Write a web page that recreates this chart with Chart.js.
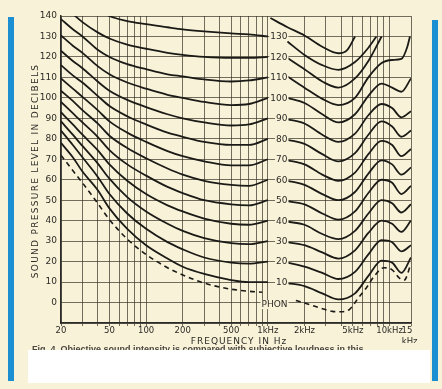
<!DOCTYPE html>
<html>
<head>
<meta charset="utf-8">
<script src="https://cdn.jsdelivr.net/npm/chart.js@4.4.1/dist/chart.umd.min.js"></script>
<style>
  body { margin: 0; background: #f8f3d8; }
  #wrap { position: relative; width: 442px; height: 389px; overflow: hidden; font-family: "DejaVu Sans", sans-serif; color: #2b2a26; }
  #chart { position: absolute; left: 0; top: 0; }
  .bar { position: absolute; width: 6px; background: #1c8fd3; }
  #ytitle { position: absolute; left: 35px; top: 171px; transform: translate(-50%, -50%) rotate(-90deg); font-size: 9px; letter-spacing: 1.3px; white-space: nowrap; }
  #xtitle { position: absolute; left: 239px; top: 341px; transform: translate(-50%, -50%); font-size: 9px; letter-spacing: 1px; white-space: nowrap; }
  #caption { position: absolute; left: 32px; top: 344px; font-family: "Liberation Sans", sans-serif; font-weight: bold; font-size: 9px; color: #4a4740; white-space: nowrap; }
  #blank { position: absolute; left: 28px; top: 350px; width: 402px; height: 33px; background: #fff; }
</style>
</head>
<body>
<div id="wrap">
  <canvas id="chart" width="442" height="389"></canvas>
  <div class="bar" style="left:8px; top:17px; height:364px;"></div>
  <div class="bar" style="left:432px; top:20px; height:361px;"></div>
  <div id="ytitle">SOUND PRESSURE LEVEL IN DECIBELS</div>
  <div id="xtitle">FREQUENCY IN Hz</div>
  <div id="caption">Fig. 4. Objective sound intensity is compared with subjective loudness in this</div>
  <div id="blank"></div>
</div>
<script>
// Frequencies (Hz) for the left half of each contour (up to 1 kHz)
const leftFreqs = [20, 25, 30, 40, 50, 70, 100, 150, 200, 300, 500, 700, 1000];
// Right half (after the phon labels)
const rightFreqs = [1450, 2000, 2800, 3800, 5200, 6700, 8600, 10500, 12500, 15000];

// Sound pressure level (dB), per loudness level
const left130 = [158, 152, 148, 143.5, 140, 137.5, 136, 134.5, 133.5, 132.5, 131.5, 131, 130];
const left120 = [146, 141, 137, 132, 129, 126, 124, 122, 121, 120, 119.5, 119.5, 120];
const left110 = [138.5, 133.5, 130, 123.5, 120, 116.5, 114, 111.5, 110.5, 109, 108, 108.5, 110];
const left100 = [130.5, 125.5, 122, 115.5, 111.5, 107.5, 104.5, 101.5, 100, 98, 96.5, 97, 100];
const left90 = [123, 118, 114.5, 108, 103.5, 99, 95.5, 92, 90, 88, 86.5, 87, 90];
const left80 = [116, 111, 107.5, 101, 96, 91, 87, 83, 81, 78.5, 77, 77, 80];
const left70 = [109.5, 104.5, 100.5, 94, 88.5, 83, 78.5, 74, 71.5, 69, 67, 67, 70];
const left60 = [103.5, 98.5, 94, 87.5, 81.5, 75.5, 70.5, 65.5, 62.5, 59.5, 57.5, 57, 60];
const left50 = [98, 92.5, 88, 81, 74.5, 67.5, 62, 56.5, 53.5, 50, 48, 47.5, 50];
const left40 = [93, 87, 82, 74.5, 67.5, 59.5, 53, 47.5, 44.5, 41, 38.5, 38, 40];
const left30 = [88.5, 82, 76.5, 68, 60.5, 51.5, 44.5, 38.5, 35, 31.5, 29, 28.5, 30];
const left20 = [84, 77, 71, 61.5, 53, 43.5, 36, 29.5, 26, 22, 19.5, 19, 20];
const left10 = [78, 71, 64, 55, 46, 36, 28, 21.5, 17.5, 14, 11, 10, 10];

const right140Freqs = [1050, 1450, 2000, 2800, 3800, 4500, 5200];
const right140 = [139, 134.5, 130.5, 125, 121.8, 123.5, 130];
const right130Freqs = [1450, 2000, 2800, 3800, 5200, 6700, 7800];
const right130 = [127.5, 121, 116, 113.7, 117.5, 124.5, 130];
const right120Freqs = [1450, 2000, 2800, 3800, 5200, 6700, 8600];
const right120 = [119.5, 114, 108, 105, 109.5, 118, 130];
const right110Freqs = [1450, 2000, 2800, 3800, 5200, 6700, 8600, 10500, 12500, 14000, 14700];
const right110 = [110.5, 105, 99.5, 96.5, 100, 110, 117, 118.5, 119, 125, 130];
const right100 = [100, 97.5, 92, 88, 92, 101, 107, 105, 103, 109.5];
const right90 = [89.5, 87.5, 82, 78.5, 82.5, 91.5, 97, 95, 90.5, 93.5];
const right80 = [79.5, 77.5, 72.5, 69, 73, 82, 88.5, 86, 81, 84];
const right70 = [69.5, 67.5, 62.5, 59.5, 63.5, 72.5, 79, 77, 71.5, 75];
const right60 = [59.5, 57.5, 53, 50, 54, 63, 69.5, 67.5, 62.5, 66];
const right50 = [49.5, 48, 43.5, 40.5, 44.5, 53.5, 60, 58.5, 53, 57];
const right40 = [39.5, 38, 33.5, 31, 35, 43.5, 50, 48.5, 44, 48];
const right30 = [29.5, 28, 24.5, 21.5, 25.5, 34, 40, 38.5, 34.5, 40];
const right20 = [19.5, 17.5, 14.5, 11.5, 15, 23.5, 30.5, 29.5, 25, 28];
const right10 = [9.5, 8, 4.5, 1.5, 4.5, 13, 20.5, 19.5, 14.5, 22];

// Threshold of hearing (dashed)
const thresholdLeftFreqs = [20, 25, 30, 40, 50, 70, 100, 150, 200, 300, 500, 700, 900];
const thresholdLeft = [72, 64.5, 58.5, 48.5, 40.5, 31, 23.5, 17, 13.5, 9.5, 6.5, 5.5, 5];
const thresholdRightFreqs = [1700, 2200, 2800, 3400, 4000, 4700, 5500, 6500, 7500, 9000, 10500, 12000, 13200, 15000];
const thresholdRight = [1, -1, -3, -4.3, -4.5, -3.3, 2, 7.5, 13, 17, 16, 12, 11, 19];

// Phon labels in the middle of the chart
const phonLabels = ['130', '120', '110', '100', '90', '80', '70', '60', '50', '40', '30', '20', '10', 'PHON'];
const phonLabelLevels = [130, 120, 110, 100, 90, 80, 70, 60, 50, 40, 30, 20, 10, -1];

// Axis ticks
const xGridFreqs = [20, 30, 40, 50, 60, 70, 80, 90, 100, 200, 300, 400, 500, 600, 700, 800, 900, 1000,
  2000, 3000, 4000, 5000, 6000, 7000, 8000, 9000, 10000, 15000];
const xTickFreqs = [20, 50, 100, 200, 500, 1000, 2000, 5000, 10000, 15000];
const xTickText = ['20', '50', '100', '200', '500', '1kHz', '2kHz', '5kHz', '10kHz', ['15   ', 'kHz ']];

const bg = '#f8f3d8';
const ink = '#1b1a17';
const gridColor = 'rgba(55,50,40,0.7)';

function pts(freqs, vals) {
  return freqs.map((f, i) => ({ x: f, y: vals[i] }));
}
function curve(lf, lv, rf, rv) {
  let d = pts(lf, lv);
  d.push({ x: 1200, y: null });
  return d.concat(pts(rf, rv));
}
function line(data, dashed) {
  return {
    data: data,
    borderColor: ink,
    borderWidth: dashed ? 1.6 : 1.8,
    borderDash: dashed ? [5, 4] : [],
    pointRadius: 0,
    fill: false,
    spanGaps: false,
    cubicInterpolationMode: 'monotone'
  };
}

let datasets = [
  line(pts(right140Freqs, right140)),
  line(curve(leftFreqs, left130, right130Freqs, right130)),
  line(curve(leftFreqs, left120, right120Freqs, right120)),
  line(curve(leftFreqs, left110, right110Freqs, right110)),
  line(curve(leftFreqs, left100, rightFreqs, right100)),
  line(curve(leftFreqs, left90, rightFreqs, right90)),
  line(curve(leftFreqs, left80, rightFreqs, right80)),
  line(curve(leftFreqs, left70, rightFreqs, right70)),
  line(curve(leftFreqs, left60, rightFreqs, right60)),
  line(curve(leftFreqs, left50, rightFreqs, right50)),
  line(curve(leftFreqs, left40, rightFreqs, right40)),
  line(curve(leftFreqs, left30, rightFreqs, right30)),
  line(curve(leftFreqs, left20, rightFreqs, right20)),
  line(curve(leftFreqs, left10, rightFreqs, right10)),
  line(curve(thresholdLeftFreqs, thresholdLeft, thresholdRightFreqs, thresholdRight), true)
];

// Phon numbers sit on the curves between 1 kHz and 1.5 kHz
const phonLabelPlugin = {
  id: 'phonLabels',
  afterDatasetsDraw(chart) {
    let ctx = chart.ctx;
    let x = chart.scales.x, y = chart.scales.y;
    let right = x.getPixelForValue(1450);
    ctx.save();
    ctx.font = '9px "DejaVu Sans"';
    ctx.textAlign = 'right';
    ctx.textBaseline = 'middle';
    phonLabels.forEach((t, i) => {
      let py = y.getPixelForValue(phonLabelLevels[i]);
      let w = ctx.measureText(t).width;
      ctx.fillStyle = bg;
      ctx.fillRect(right - w - 1, py - 4.5, w + 2, 9);
      ctx.fillStyle = '#2b2a26';
      ctx.fillText(t, right, py + 0.5);
    });
    ctx.restore();
  }
};

let chart = new Chart(document.getElementById('chart'), {
  type: 'line',
  data: { datasets: datasets },
  options: {
    responsive: false,
    animation: false,
    devicePixelRatio: 1,
    layout: { padding: { left: 0, top: 16, right: 31, bottom: 46 } },
    plugins: { legend: { display: false }, tooltip: { enabled: false } },
    scales: {
      x: {
        type: 'logarithmic',
        min: 20,
        max: 15000,
        afterBuildTicks: s => { s.ticks = xGridFreqs.map(v => ({ value: v })); },
        afterFit: s => { s.height = 20; },
        grid: { color: gridColor, lineWidth: 1, tickLength: 3 },
        border: { color: '#2b2a26', width: 1.5 },
        ticks: {
          autoSkip: false,
          maxRotation: 0,
          padding: 0,
          color: '#2b2a26',
          font: { family: 'DejaVu Sans', size: 8.5 },
          callback: v => {
            let i = xTickFreqs.indexOf(v);
            return i >= 0 ? xTickText[i] : '';
          }
        }
      },
      y: {
        min: -10,
        max: 140,
        afterFit: s => { s.width = 61; },
        grid: { color: gridColor, lineWidth: 1, drawTicks: false },
        border: { color: '#2b2a26', width: 1.5 },
        ticks: {
          stepSize: 10,
          padding: 4,
          color: '#2b2a26',
          font: { family: 'DejaVu Sans', size: 9 },
          callback: v => v < 0 ? '' : v
        }
      }
    }
  },
  plugins: [phonLabelPlugin]
});
</script>
</body>
</html>
